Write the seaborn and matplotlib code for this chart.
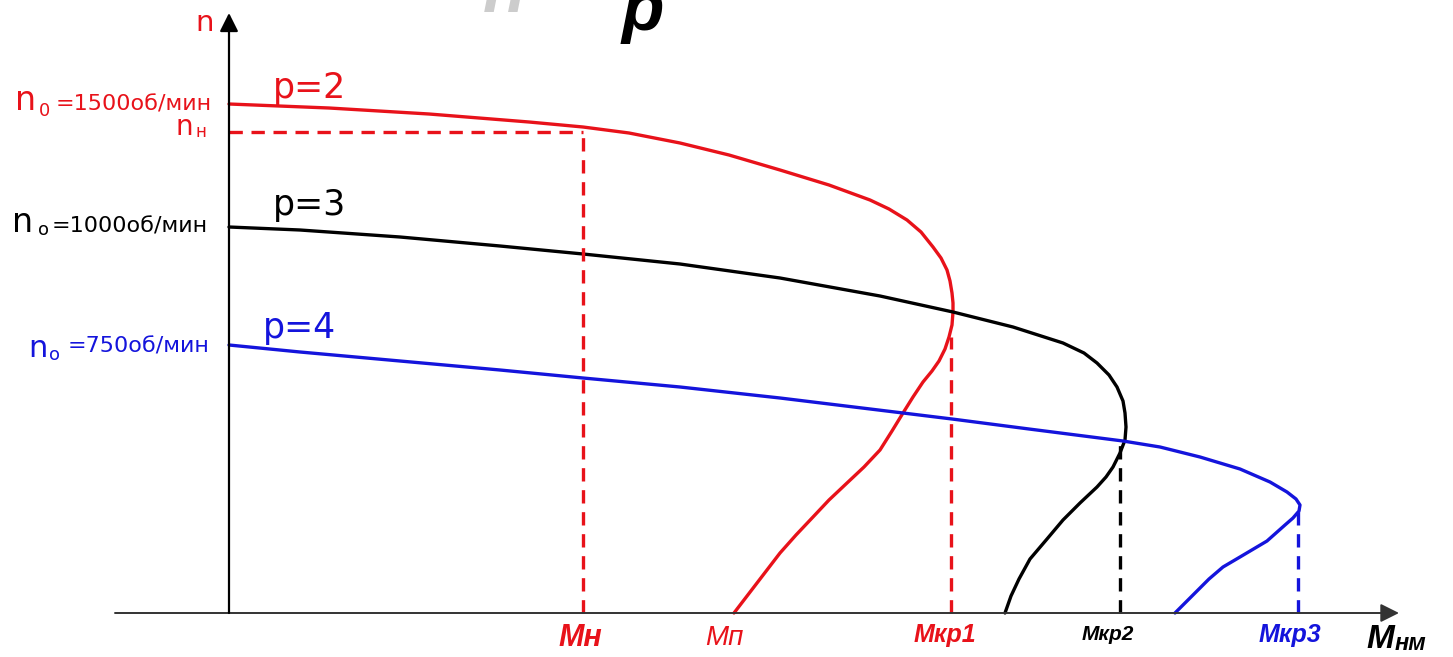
import numpy as np
import pandas as pd
import seaborn as sns
import matplotlib.pyplot as plt

# mechanical characteristics n(M) for three pole-pair numbers (units)
red_M = [0, 100, 200, 300, 354, 400, 451, 500, 551, 600, 641, 660, 678, 692, 704, 712, 718, 721, 723, 724,
         724, 723, 720, 716, 710, 703, 694, 684, 674, 663, 651, 635, 618, 600, 584, 567, 551, 528, 505]
red_n = [509, 505, 499, 491, 486, 480, 470, 458, 443, 428, 413, 404, 393, 381, 366, 355, 343, 332, 320, 310,
         301, 288, 276, 264, 252, 242, 231, 216, 200, 182, 163, 146, 130, 113, 96, 78, 60, 30, 0]

black_M = [0, 71, 171, 271, 354, 451, 551, 651, 724, 784, 834, 855, 868, 880, 888, 894, 896, 897, 896, 891,
           884, 877, 868, 851, 834, 818, 801, 790, 782, 776]
black_n = [386, 383, 376, 367, 359, 349, 335, 317, 301, 286, 270, 260, 250, 238, 226, 212, 200, 186, 173, 160,
           146, 136, 126, 110, 93, 74, 54, 34, 17, 0]

blue_M = [0, 71, 171, 271, 354, 451, 551, 674, 723, 800, 894, 931, 971, 1011, 1041, 1058, 1067, 1071, 1070,
          1064, 1056, 1038, 1011, 994, 980, 966, 946]
blue_n = [268, 261, 252, 243, 235, 226, 215, 200, 194, 184, 172, 166, 156, 144, 131, 121, 114, 108, 102,
          95, 88, 72, 56, 46, 34, 20, 0]

# nominal point and critical torques
M_nom, n_nom = 354, 481
M_kr = [722, 891, 1069]
n_kr_top = [276, 168, 103]

curves = pd.concat([
    pd.DataFrame({'M': red_M, 'n': red_n, 'p': 'p=2'}),
    pd.DataFrame({'M': black_M, 'n': black_n, 'p': 'p=3'}),
    pd.DataFrame({'M': blue_M, 'n': blue_n, 'p': 'p=4'}),
])

RED = '#e8121a'
BLUE = '#1414dc'
colors = {'p=2': RED, 'p=3': 'black', 'p=4': BLUE}

sns.set_style('white')
plt.rcParams['font.family'] = ['DejaVu Sans']

fig = plt.figure(figsize=(14.53, 6.57), dpi=100)
ax = fig.add_axes([0, 0, 1, 1])
ax.set_xlim(-229, 1224)
ax.set_ylim(-44, 613)
ax.axis('off')

# axes with arrows
ax.annotate('', xy=(1170, 0), xytext=(-114, 0),
            arrowprops=dict(arrowstyle='-|>', mutation_scale=28, lw=1.4, color='#333333', shrinkA=0, shrinkB=0))
ax.annotate('', xy=(0, 600), xytext=(0, 0),
            arrowprops=dict(arrowstyle='-|>', mutation_scale=28, lw=1.6, color='black', shrinkA=0, shrinkB=0))

sns.lineplot(data=curves, x='M', y='n', hue='p', palette=colors, sort=False, estimator=None,
             lw=2.4, legend=False, ax=ax)

dash = (0, (4, 2.6))
ax.plot([0, M_nom], [n_nom, n_nom], color=RED, lw=2.4, ls=dash)
ax.plot([M_nom, M_nom], [0, n_nom], color=RED, lw=2.4, ls=dash)
for m, top, c in zip(M_kr, n_kr_top, [RED, 'black', BLUE]):
    ax.plot([m, m], [0, top], color=c, lw=2.4, ls=dash)

# curve labels
ax.text(44, 515, 'p=2', color=RED, fontsize=25)
ax.text(44, 398, 'p=3', color='black', fontsize=25)
ax.text(34, 275, 'p=4', color=BLUE, fontsize=25)

# axis name
ax.text(-24, 590, 'n', color=RED, fontsize=21, ha='center', va='center')

# synchronous speed labels
ax.text(-214, 503, 'n', color=RED, fontsize=24)
ax.text(-190, 497, '0', color=RED, fontsize=13)
ax.text(-173, 503, '=1500об/мин', color=RED, fontsize=16)
ax.text(-53, 478, 'n', color=RED, fontsize=20)
ax.text(-33, 476, 'н', color=RED, fontsize=12)

ax.text(-217, 381, 'n', color='black', fontsize=24)
ax.text(-191, 378, 'o', color='black', fontsize=13)
ax.text(-177, 381, '=1000об/мин', color='black', fontsize=16)

ax.text(-201, 256, 'n', color=BLUE, fontsize=22)
ax.text(-180, 253, 'o', color=BLUE, fontsize=13)
ax.text(-161, 260, '=750об/мин', color=BLUE, fontsize=16)

# torque labels
tick_font = dict(family='Liberation Sans', style='italic', weight='bold', ha='center', va='center')
ax.text(M_nom - 3, -25, 'Мн', color=RED, fontsize=22, **tick_font)
ax.text(495, -25, 'Мп', color=RED, fontsize=20, family='Liberation Sans', style='italic',
        ha='center', va='center')
ax.text(M_kr[0] - 6, -22, 'Мкр1', color=RED, fontsize=18, **tick_font)
ax.text(M_kr[1] - 12, -22, 'Мкр2', color='black', fontsize=15, **tick_font)
ax.text(M_kr[2] - 8, -22, 'Мкр3', color=BLUE, fontsize=18, **tick_font)
ax.text(1137, -26, 'М', color='black', fontsize=24, family='Liberation Sans', style='italic',
        weight='bold', va='center')
ax.text(1166, -30, 'нм', color='black', fontsize=17, family='Liberation Sans', style='italic',
        weight='bold', va='center')

# cropped title fragments at the top edge
ax.text(393, 583, 'p', color='black', fontsize=50, family='Liberation Sans', style='italic', weight='bold')
ax.text(254, 601, 'n', color='black', fontsize=50, family='Liberation Sans', style='italic',
        weight='bold', alpha=0.2)

fig.savefig('out.png', dpi=100)
